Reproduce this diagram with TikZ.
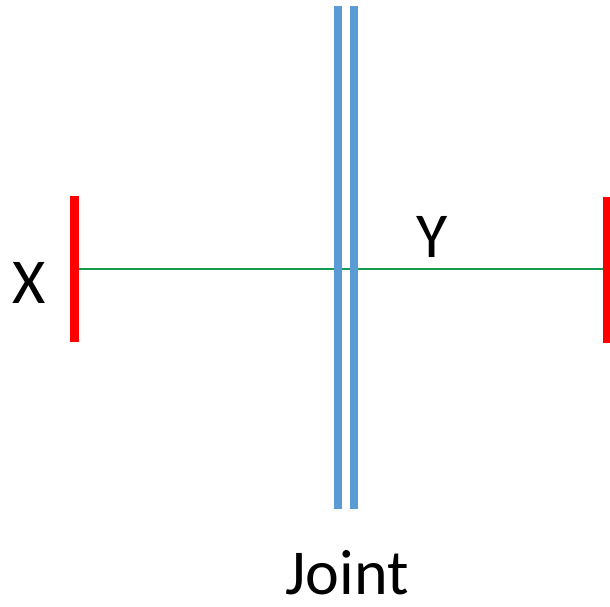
\documentclass[tikz,border=0pt]{standalone}
\usepackage{fontspec}
\setmainfont{Carlito}
\definecolor{barred}{RGB}{255,0,0}
\definecolor{jointblue}{RGB}{91,155,213}
\definecolor{linkgreen}{RGB}{20,155,80}
\begin{document}
\begin{tikzpicture}[x=1pt,y=-1pt,
  redbar/.style={draw=barred,line width=9pt},
  bluebar/.style={draw=jointblue,line width=8pt},
  link/.style={draw=linkgreen,line width=1.5pt},
  lbl/.style={font=\fontsize{64}{64}\selectfont,inner sep=0pt,anchor=base}]
\useasboundingbox (0,0) rectangle (610,607);
\coordinate (xt) at (74.5,196);
\coordinate (xb) at (74.5,342);
\coordinate (yt) at (607,197);
\coordinate (yb) at (607,343);
\coordinate (xm) at (74.5,269);
\coordinate (ym) at (607,269);
\coordinate (j1t) at (338.3,6);
\coordinate (j1b) at (338.3,509);
\coordinate (j2t) at (354.2,6);
\coordinate (j2b) at (354.2,509);
\draw[link] (xm) -- (ym);
\draw[bluebar] (j1t) -- (j1b);
\draw[bluebar] (j2t) -- (j2b);
\draw[redbar] (xt) -- (xb);
\draw[redbar] (yt) -- (yb);
\node[lbl] (X) at (29,303) {X};
\node[lbl] (Y) at (432,257) {Y};
\node[lbl,text depth=0pt] (J) at (347,594) {Joint};
\end{tikzpicture}
\end{document}
